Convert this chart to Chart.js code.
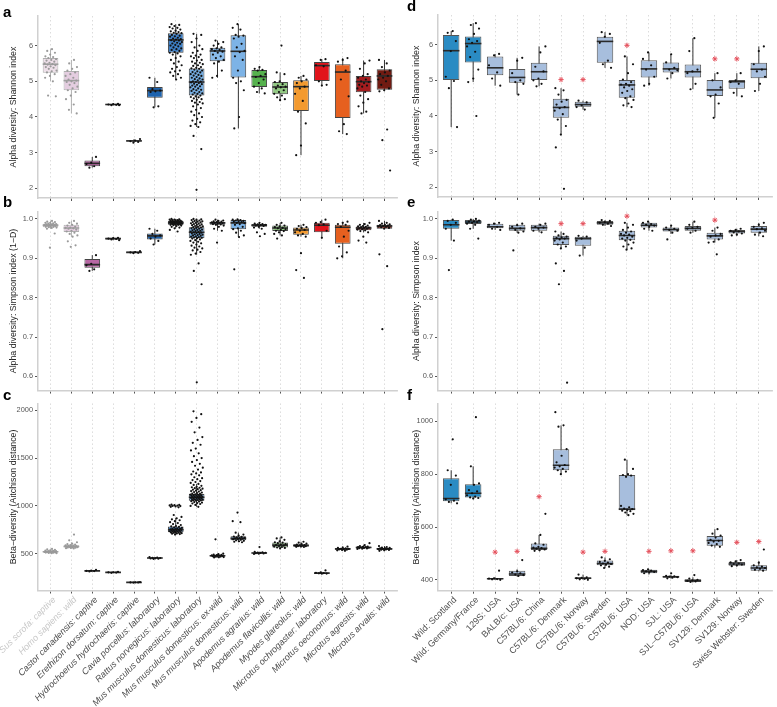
<!DOCTYPE html>
<html><head><meta charset="utf-8">
<script src="https://cdn.jsdelivr.net/npm/chart.js@4.4.1/dist/chart.umd.min.js"></script>
<style>
html,body{margin:0;padding:0;background:#fff}
body{width:777px;height:707px;position:relative;overflow:hidden;font-family:'Liberation Sans',Arial,sans-serif}
canvas{position:absolute}
.lt{position:absolute;font-weight:bold;font-size:15px;line-height:15px;color:#000}
</style></head><body>
<canvas id="pa" width="401" height="205" style="left:0;top:0"></canvas>
<canvas id="pb" width="401" height="192" style="left:0;top:205px"></canvas>
<canvas id="pc" width="401" height="310" style="left:0;top:397px"></canvas>
<canvas id="pd" width="377" height="205" style="left:400px;top:0"></canvas>
<canvas id="pe" width="377" height="192" style="left:400px;top:205px"></canvas>
<canvas id="pf" width="377" height="310" style="left:400px;top:397px"></canvas>
<div class="lt" style="left:3px;top:4px">a</div>
<div class="lt" style="left:3px;top:194px">b</div>
<div class="lt" style="left:3px;top:387px">c</div>
<div class="lt" style="left:407px;top:-2px">d</div>
<div class="lt" style="left:407px;top:194px">e</div>
<div class="lt" style="left:407px;top:387px">f</div>
<script>
// ---------- categories ----------
const leftCats = ['Sus scrofa: captive','Homo sapiens: wild','Castor canadensis: captive','Erethizon dorsatum: captive','Hydrochoerus hydrochaeris: captive','Cavia porcellus: laboratory','Rattus norvegicus: laboratory','Mus musculus domesticus: laboratory','Mus musculus domesticus: ex-wild','Mus musculus domesticus: wild','Apodemus agrarius: wild','Apodemus flavicollis: wild','Myodes glareolus: wild','Microtus ochrogaster: laboratory','Microtus oeconomus: wild','Microtus agrestis: wild','Microtus arvalis: wild'];
const rightCats = ['Wild: Scotland','Wild: Germany/France','129S: USA','BALB/c: USA','C57BL/6: China','C57BL/6: Denmark','C57BL/6: Norway','C57BL/6: Sweden','C57BL/6: USA','NOD: USA','SJL: USA','SJL\u2013C57BL/6: USA','SV129: Denmark','SV129: Norway','Swiss Webster: Sweden'];

// ---------- colours ----------
const leftFill = ['#eedfe9','#e4cde0','#b867a4','#7d4f87','#5b5b5b','#1d63ae','#3f80c6','#76aee3','#8abbe9','#7db3e6','#56b24e','#92c983','#f39a2f','#e1141b','#e6601f','#a31d1f','#711b12'];
const leftEdge = ['#b0b0b0','#b0b0b0','#444','#444','#444','#444','#444','#444','#444','#444','#444','#444','#444','#444','#444','#444','#444'];
const leftPt = ['#9a9a9a','#9a9a9a','#111','#111','#111','#111','#111','#111','#111','#111','#111','#111','#111','#111','#111','#111','#111'];
const leftLabCol = ['#c8c8c8','#c8c8c8','#4d4d4d','#4d4d4d','#4d4d4d','#4d4d4d','#4d4d4d','#4d4d4d','#4d4d4d','#4d4d4d','#4d4d4d','#4d4d4d','#4d4d4d','#4d4d4d','#4d4d4d','#4d4d4d','#4d4d4d'];
const rightFill = ['#2a8bc3','#2a8bc3','#a7bedd','#a7bedd','#a7bedd','#a7bedd','#a7bedd','#a7bedd','#a7bedd','#a7bedd','#a7bedd','#a7bedd','#a7bedd','#a7bedd','#a7bedd'];
const rightEdge = rightCats.map(()=> '#555');
const rightPt = rightCats.map(()=> '#111');
const rightLabCol = rightCats.map(()=> '#4d4d4d');

// ---------- tick labels ----------
const yTicksShannon = [2,3,4,5,6];
const yLabShannon = ['2','3','4','5','6'];
const yTicksSimpson = [0.6,0.7,0.8,0.9,1.0];
const yLabSimpson = ['0.6','0.7','0.8','0.9','1.0'];
const yTicksBetaL = [500,1000,1500,2000];
const yLabBetaL = ['500','1000','1500','2000'];
const yTicksBetaR = [400,600,800,1000];
const yLabBetaR = ['400','600','800','1000'];

// ---------- panel a : Shannon (hosts) ----------
const aQ1  = [5.24,4.75,2.62,4.335,3.31,4.54,5.80,4.60,5.56,5.11,4.84,4.64,4.17,5.01,3.97,4.69,4.76];
const aMed = [5.48,5.02,2.70,4.35,3.33,4.74,6.16,4.98,5.85,5.84,5.13,4.84,4.85,5.44,5.26,4.99,5.15];
const aQ3  = [5.65,5.29,2.78,4.36,3.35,4.84,6.35,5.36,5.94,6.29,5.32,4.98,5.03,5.54,5.48,5.15,5.34];
const aLo  = [5.00,4.10,2.58,4.33,3.28,4.27,5.05,3.72,5.10,3.68,4.66,4.47,2.93,4.88,3.52,4.10,4.72];
const aHi  = [5.90,5.60,2.88,4.37,3.38,5.10,6.60,6.33,6.14,6.60,5.40,5.25,5.15,5.62,5.65,5.58,5.60];
const aPts = [
 [5.9,5.85,5.8,5.75,5.7,5.68,5.65,5.62,5.6,5.58,5.55,5.52,5.5,5.48,5.47,5.45,5.42,5.4,5.38,5.35,5.3,5.28,5.25,5.2,5.15,5.1,5.0,4.6,4.58],
 [5.6,5.5,5.4,5.35,5.3,5.25,5.2,5.15,5.1,5.05,5.02,5.0,4.98,4.95,4.9,4.85,4.8,4.75,4.7,4.6,4.5,4.35,4.2,4.1],
 [2.88,2.72,2.68,2.62,2.58],
 [4.37,4.36,4.35,4.34,4.33,4.33],
 [3.38,3.34,3.32,3.3,3.28],
 [5.1,4.98,4.78,4.74,4.72,4.7,4.3,4.27],
 [6.6,6.58,6.55,6.52,6.5,6.48,6.45,6.42,6.4,6.38,6.36,6.35,6.33,6.3,6.28,6.26,6.25,6.22,6.2,6.18,6.17,6.15,6.14,6.12,6.1,6.08,6.06,6.05,6.02,6.0,5.98,5.95,5.92,5.9,5.88,5.85,5.82,5.8,5.78,5.75,5.7,5.65,5.6,5.55,5.5,5.45,5.4,5.35,5.3,5.28,5.25,5.2,5.15,5.1,5.05],
 [6.33,6.3,6.2,6.1,6.0,5.95,5.9,5.85,5.8,5.75,5.72,5.7,5.68,5.65,5.6,5.58,5.55,5.52,5.5,5.48,5.45,5.43,5.4,5.38,5.36,5.35,5.33,5.3,5.28,5.26,5.25,5.22,5.2,5.18,5.16,5.15,5.12,5.1,5.08,5.06,5.05,5.03,5.0,4.99,4.98,4.97,4.95,4.93,4.92,4.9,4.88,4.86,4.85,4.83,4.8,4.78,4.76,4.75,4.73,4.7,4.68,4.66,4.65,4.63,4.6,4.58,4.56,4.55,4.52,4.5,4.48,4.45,4.42,4.4,4.38,4.35,4.3,4.25,4.2,4.15,4.1,4.05,4.0,3.95,3.9,3.85,3.8,3.75,3.72,3.47,3.1,1.96],
 [6.14,6.1,6.05,6.0,5.95,5.92,5.9,5.88,5.85,5.83,5.8,5.75,5.7,5.65,5.6,5.55,5.5,5.3,5.15,5.1],
 [6.6,6.5,6.45,6.3,6.28,6.25,6.2,6.05,5.95,5.85,5.82,5.7,5.6,5.3,5.1,5.0,4.95,4.75,4.0,3.68],
 [5.4,5.35,5.32,5.3,5.2,5.15,5.12,5.05,4.95,4.85,4.8,4.7,4.66],
 [6.0,5.25,5.2,5.0,4.98,4.92,4.88,4.85,4.83,4.8,4.75,4.7,4.65,4.6,4.55,4.5,4.47],
 [5.15,5.1,5.05,5.0,4.95,4.85,4.8,4.65,4.45,4.15,3.82,3.2,2.93],
 [5.62,5.6,5.45,5.42,5.0,4.9,4.88],
 [5.65,5.6,5.55,5.3,5.05,4.58,3.8,3.6,3.52],
 [5.58,5.5,5.35,5.2,5.15,5.1,5.05,5.0,4.98,4.95,4.9,4.88,4.85,4.8,4.7,4.6,4.5,4.4,4.3,4.15,4.1],
 [5.6,5.5,5.4,5.3,5.25,5.2,5.15,5.1,5.05,5.0,4.9,4.8,4.75,4.72,3.65,3.35,2.5]
];

// ---------- panel b : Simpson (hosts) ----------
const bQ1  = [0.979,0.967,0.876,0.948,0.914,0.948,0.985,0.951,0.985,0.974,0.980,0.969,0.960,0.966,0.937,0.971,0.975];
const bMed = [0.984,0.977,0.884,0.950,0.915,0.957,0.990,0.966,0.990,0.990,0.984,0.977,0.972,0.984,0.979,0.977,0.982];
const bQ3  = [0.988,0.985,0.898,0.952,0.917,0.963,0.995,0.979,0.993,0.997,0.987,0.983,0.978,0.990,0.985,0.981,0.985];
const bLo  = [0.975,0.955,0.868,0.946,0.913,0.935,0.976,0.909,0.970,0.954,0.975,0.958,0.955,0.952,0.900,0.966,0.975];
const bHi  = [0.995,0.995,0.908,0.953,0.918,0.975,1.000,1.000,0.998,0.999,0.990,0.990,0.985,0.998,0.993,0.990,0.995];
const bPts = [
 [0.995,0.993,0.992,0.99,0.99,0.989,0.988,0.987,0.986,0.986,0.985,0.985,0.984,0.984,0.983,0.982,0.981,0.98,0.98,0.979,0.978,0.977,0.975,0.963,0.927],
 [0.995,0.99,0.988,0.985,0.983,0.98,0.978,0.977,0.976,0.975,0.973,0.97,0.968,0.965,0.962,0.958,0.955,0.943,0.933,0.929],
 [0.908,0.886,0.882,0.872,0.868],
 [0.952,0.951,0.95,0.949,0.948,0.946],
 [0.918,0.916,0.915,0.914,0.913],
 [0.975,0.97,0.962,0.958,0.955,0.95,0.944,0.935],
 [1.0,0.999,0.998,0.998,0.997,0.997,0.996,0.996,0.995,0.995,0.994,0.994,0.993,0.993,0.992,0.992,0.991,0.991,0.99,0.99,0.99,0.989,0.989,0.988,0.988,0.987,0.987,0.986,0.986,0.985,0.985,0.984,0.983,0.982,0.98,0.978,0.976,0.972,0.968],
 [1.0,0.999,0.998,0.997,0.996,0.995,0.994,0.993,0.992,0.991,0.99,0.989,0.988,0.987,0.986,0.985,0.984,0.983,0.982,0.981,0.98,0.979,0.978,0.977,0.976,0.975,0.974,0.973,0.972,0.971,0.97,0.969,0.968,0.967,0.966,0.965,0.964,0.963,0.962,0.961,0.96,0.959,0.958,0.957,0.956,0.955,0.954,0.953,0.952,0.951,0.95,0.948,0.946,0.944,0.942,0.94,0.938,0.935,0.932,0.93,0.927,0.925,0.922,0.92,0.916,0.912,0.909,0.887,0.868,0.834,0.585],
 [0.998,0.996,0.995,0.994,0.993,0.992,0.991,0.99,0.99,0.989,0.988,0.987,0.986,0.985,0.983,0.98,0.975,0.97,0.94],
 [0.999,0.998,0.997,0.996,0.995,0.994,0.993,0.992,0.99,0.989,0.987,0.985,0.98,0.976,0.974,0.97,0.965,0.958,0.954,0.872],
 [0.99,0.988,0.987,0.986,0.985,0.984,0.983,0.982,0.98,0.978,0.975,0.966,0.962,0.956],
 [0.99,0.985,0.983,0.981,0.979,0.977,0.976,0.974,0.972,0.97,0.969,0.966,0.962,0.958,0.95],
 [0.985,0.982,0.979,0.977,0.975,0.972,0.97,0.966,0.962,0.958,0.955,0.913,0.87,0.85],
 [0.998,0.992,0.99,0.986,0.984,0.97,0.952],
 [0.993,0.99,0.987,0.985,0.98,0.97,0.955,0.93,0.915,0.905,0.9],
 [0.99,0.987,0.985,0.983,0.982,0.981,0.98,0.979,0.978,0.977,0.976,0.975,0.974,0.973,0.971,0.969,0.966,0.955,0.945,0.94],
 [0.995,0.99,0.988,0.986,0.985,0.984,0.983,0.982,0.981,0.98,0.979,0.977,0.975,0.91,0.88,0.72]
];

// ---------- panel c : Aitchison (hosts) ----------
const cQ1  = [515,565,316,302,199,449,725,1055,470,640,502,565,577,292,542,558,542];
const cMed = [520,575,320,305,200,455,750,1090,478,660,507,590,585,297,550,565,550];
const cQ3  = [528,588,324,308,201,460,785,1125,487,683,513,618,600,303,558,575,560];
const cLo  = [505,555,315,300,198,445,700,990,460,620,498,555,570,290,530,550,530];
const cHi  = [545,620,330,310,203,465,875,1230,500,720,520,670,625,310,575,590,580];
const cPts = [
 [550,545,540,535,532,530,528,526,525,523,522,520,519,518,517,515,514,512,510,508,506,505],
 [700,640,620,605,600,595,590,587,585,582,580,578,575,573,570,568,566,564,562,560,558,555],
 [330,322,320,318,315],
 [310,306,305,303,300],
 [203,201,200,199,198],
 [465,460,457,455,452,450,447,445],
 [1013,1010,1008,1005,1003,1000,998,995,990,985,905,885,870,860,850,840,830,820,810,800,790,785,780,775,770,765,762,760,757,755,752,750,748,745,742,740,737,735,732,730,727,725,722,720,718,715,712,710,705,700],
 [1990,1960,1920,1880,1820,1770,1720,1690,1660,1640,1600,1580,1550,1520,1500,1480,1460,1440,1420,1400,1380,1360,1350,1340,1330,1320,1300,1290,1280,1270,1260,1250,1240,1230,1220,1210,1200,1195,1190,1185,1180,1175,1170,1165,1160,1155,1150,1145,1140,1135,1130,1125,1120,1118,1115,1112,1110,1108,1105,1102,1100,1098,1095,1093,1090,1088,1085,1083,1080,1078,1075,1072,1070,1067,1065,1062,1060,1057,1055,1050,1045,1040,1035,1030,1025,1020,1010,1000,990],
 [650,500,495,490,487,485,482,480,478,476,475,473,470,468,465,462,460],
 [930,840,830,720,700,690,680,675,670,665,662,660,657,655,650,645,640,635,630,625,620],
 [570,520,515,512,510,508,505,503,500,498],
 [670,660,645,630,620,615,610,600,595,590,585,580,575,570,565,560,555],
 [625,615,605,600,595,590,588,585,583,580,578,575,572,570],
 [325,305,300,297,295,292,290],
 [575,565,560,555,552,550,548,545,542,540,535,530],
 [610,590,580,575,572,570,568,565,562,560,558,555,552,550],
 [580,570,565,560,558,555,552,550,548,545,542,540,535,530]
];

// ---------- panel d : Shannon (mouse strains) ----------
const dQ1  = [5.01,5.50,5.14,4.93,5.01,3.95,4.26,5.49,4.51,5.08,5.22,5.08,4.56,4.76,5.06];
const dMed = [5.83,6.03,5.35,5.08,5.24,4.24,4.32,6.09,4.87,5.32,5.32,5.24,4.73,4.96,5.31];
const dQ3  = [6.27,6.23,5.67,5.32,5.49,4.48,4.40,6.22,5.01,5.56,5.50,5.44,5.01,5.01,5.49];
const dLo  = [3.69,4.95,4.85,4.60,4.83,3.48,4.18,5.35,4.25,4.85,5.05,4.75,3.95,4.55,4.70];
const dHi  = [6.38,6.60,5.74,5.63,5.95,4.78,4.43,6.35,5.67,5.78,5.73,6.18,5.20,5.20,5.95];
const dPts = [
 [6.38,6.33,6.1,5.82,5.1,4.98,4.78,3.69],
 [6.6,6.55,6.45,6.3,6.15,6.1,6.05,5.95,5.8,5.65,5.3,5.05,4.95,4.0],
 [5.74,5.7,5.42,5.22,5.05,4.85],
 [5.63,5.55,5.2,5.0,4.95,4.9,4.6],
 [5.95,5.78,5.38,5.25,5.05,5.0,4.9,4.83],
 [4.78,4.72,4.6,4.45,4.4,4.32,4.25,4.22,4.15,4.05,3.9,3.72,3.48,3.12,1.96],
 [4.43,4.38,4.3,4.25,4.18],
 [6.35,6.3,6.22,6.05,5.55,5.45,5.35],
 [5.67,5.45,5.2,5.02,4.95,4.9,4.88,4.85,4.8,4.75,4.7,4.65,4.55,4.5,4.45,4.35,4.3,4.25],
 [5.78,5.6,5.42,5.3,5.1,4.9,4.85],
 [5.73,5.5,5.35,5.3,5.28,5.2,5.05],
 [6.18,5.82,5.3,5.25,5.2,4.9,4.75],
 [5.2,5.0,4.8,4.6,4.55,4.35,3.95],
 [5.2,5.0,4.95,4.9,4.65,4.55],
 [5.95,5.82,5.45,5.3,5.25,5.1,4.9,4.7]
];
const dStar = [null,null,null,null,null,5.02,5.02,null,5.98,null,null,null,5.6,5.6,null];

// ---------- panel e : Simpson (mouse strains) ----------
const eQ1  = [0.975,0.987,0.976,0.970,0.970,0.934,0.932,0.985,0.946,0.978,0.968,0.970,0.948,0.963,0.965];
const eMed = [0.985,0.992,0.980,0.976,0.978,0.950,0.950,0.990,0.958,0.984,0.973,0.976,0.957,0.968,0.974];
const eQ3  = [0.997,0.997,0.988,0.985,0.985,0.957,0.955,0.995,0.970,0.990,0.978,0.982,0.965,0.972,0.982];
const eLo  = [0.945,0.975,0.972,0.965,0.966,0.925,0.907,0.982,0.922,0.970,0.962,0.965,0.940,0.958,0.956];
const eHi  = [0.998,1.000,0.990,0.988,0.988,0.968,0.957,0.997,0.990,0.993,0.983,0.993,0.978,0.975,0.990];
const ePts = [
 [0.998,0.995,0.99,0.985,0.975,0.945,0.87],
 [1.0,0.998,0.996,0.994,0.993,0.992,0.99,0.988,0.985,0.975,0.95],
 [0.99,0.988,0.985,0.98,0.975,0.972],
 [0.988,0.984,0.98,0.976,0.972,0.968,0.965,0.92],
 [0.988,0.985,0.98,0.978,0.975,0.97,0.966],
 [0.968,0.962,0.958,0.955,0.953,0.951,0.95,0.948,0.945,0.94,0.935,0.93,0.925,0.887,0.868,0.834,0.584],
 [0.957,0.955,0.95,0.945,0.927,0.907],
 [0.997,0.995,0.992,0.99,0.988,0.985,0.982],
 [0.99,0.985,0.978,0.972,0.968,0.965,0.962,0.96,0.958,0.955,0.952,0.95,0.947,0.945,0.94,0.935,0.93,0.925,0.922],
 [0.993,0.99,0.987,0.985,0.983,0.98,0.975,0.97],
 [0.983,0.978,0.975,0.972,0.97,0.965,0.948],
 [0.993,0.985,0.98,0.977,0.975,0.97,0.965],
 [0.978,0.97,0.962,0.958,0.955,0.948,0.942,0.94,0.91],
 [0.975,0.972,0.97,0.968,0.966,0.963,0.96,0.958],
 [0.99,0.985,0.98,0.976,0.974,0.97,0.965,0.96,0.956]
];
const eStar = [null,null,null,null,null,0.988,0.988,null,1.007,null,null,null,0.997,null,null];

// ---------- panel f : Aitchison (mouse strains) ----------
const fQ1  = [698,712,402,415,513,815,403,455,664,425,408,392,529,453,435];
const fMed = [708,728,404,422,520,834,406,462,668,432,412,397,549,460,445];
const fQ3  = [785,762,407,435,538,895,410,473,797,438,416,402,566,468,455];
const fLo  = [690,705,400,413,510,800,400,445,645,420,405,390,522,450,432];
const fHi  = [815,830,410,440,570,985,420,485,855,440,420,410,592,475,470];
const fPts = [
 [932,815,795,760,705,700,695,690],
 [1016,830,765,760,740,735,728,720,715,712,710,708],
 [435,406,405,403,402,400],
 [475,432,428,425,420,418,415],
 [650,570,538,533,525,522,520,518,515,512,510],
 [1035,985,980,895,870,845,835,830,825,820,815,810,800],
 [420,410,408,406,404,402,400],
 [485,478,472,468,465,462,460,457,455,450,445],
 [855,820,800,797,795,790,680,675,670,668,665,662,660,655,650,645],
 [440,437,435,432,430,428,425],
 [425,415,413,412,410,408,406],
 [418,405,400,398,396,394,392],
 [592,575,568,560,552,548,545,540,535,530,525],
 [475,470,466,462,460,458,455,452],
 [515,465,455,450,447,445,442,438,435]
];
const fStar = [null,null,505,508,715,null,505,508,null,508,510,510,null,542,545];

// ---------- drawing ----------
Chart.defaults.font.family = "'Liberation Sans', Arial, sans-serif";
const HALF = 0.375;
function jit(k){ return (((k*0.6180339887)%1) - 0.5) * 0.6; }

function panel(id, c){
  const n = c.cats.length;
  const idx = c.cats.map((_, i) => i);
  const whisk = [], med = [], box = [], pts = [], stars = [];
  idx.forEach(i => {
    whisk.push({x:i, y:c.lo[i]}, {x:i, y:c.hi[i]}, {x:i, y:null});
    med.push({x:i-HALF, y:c.med[i]}, {x:i+HALF, y:c.med[i]}, {x:i, y:null});
    box.push({x:i, y:[c.q1[i], c.q3[i]]});
    c.pts[i].forEach((v, k) => pts.push({x: i + jit(k + i*5 + 1), y: v, c: i}));
    if (c.star && c.star[i] != null) stars.push({x:i, y:c.star[i]});
  });
  new Chart(document.getElementById(id), {
    type: 'bar',
    data: { datasets: [
      {type:'scatter', data:stars, order:0, pointStyle:'star', pointRadius:2.6, pointBorderWidth:1,
        borderColor:'#e5505c', backgroundColor:'#e5505c'},
      {type:'scatter', data:pts, order:1, pointRadius:1.1, pointBorderWidth:0,
        pointBackgroundColor: ctx => (ctx.raw ? c.pt[ctx.raw.c] : '#111')},
      {type:'line', data:med, order:2, borderWidth:1.6, pointRadius:0, spanGaps:false, borderColor:'#333',
        segment:{borderColor: ctx => c.edge[Math.round(ctx.p0.parsed.x + HALF)] === '#b0b0b0' ? '#a0a0a0' : '#2a2a2a'}},
      {type:'bar', data:box, order:3, backgroundColor:c.fill, borderColor:c.edge, borderWidth:1,
        borderSkipped:false, barPercentage:0.75, categoryPercentage:1},
      {type:'line', data:whisk, order:4, borderWidth:1, pointRadius:0, spanGaps:false, borderColor:'#333',
        segment:{borderColor: ctx => c.edge[Math.round(ctx.p0.parsed.x)] === '#b0b0b0' ? '#b0b0b0' : '#333'}}
    ]},
    options: {
      responsive:false, animation:false, events:[],
      layout:{padding:{left:0, right:0, top:c.padT, bottom:0}},
      plugins:{legend:{display:false}, tooltip:{enabled:false}},
      scales: {
        x: {
          type:'linear', min:-0.6, max:n-0.4, offset:false,
          afterBuildTicks: s => { s.ticks = idx.map(v => ({value:v})); },
          afterFit: s => { s.height = c.xh; s.paddingLeft = 0; s.paddingRight = 0; },
          ticks: {display:c.showLabels, autoSkip:false, minRotation:45, maxRotation:45, padding:1, labelOffset:4,
            font:{size:9, style:c.italic ? 'italic' : 'normal'},
            color: ctx => c.labCol[ctx.index] || '#4d4d4d',
            callback: (v, i) => c.cats[i]},
          grid: {offset:false, color:'#d3d3d3', lineWidth:0.8, drawTicks:true, tickLength:3,
            tickColor:'#555', tickWidth:1, tickBorderDash:[]},
          border: {display:true, color:'#d0d0d0', width:1.5, dash:[1.5,2.5]}
        },
        y: {
          min:c.ymin, max:c.ymax,
          afterBuildTicks: s => { s.ticks = c.yt.map(v => ({value:v})); },
          afterFit: s => { s.width = 38; },
          ticks: {font:{size:7.4}, color:'#555', padding:2, callback: (v, i) => c.yl[i]},
          title: {display:true, text:c.title, font:{size:8.8}, color:'#222', padding:{top:c.titlePad, bottom:0}},
          grid: {drawOnChartArea:false, drawTicks:true, tickLength:3, tickColor:'#555', tickWidth:1},
          border: {display:true, color:'#d0d0d0', width:1.5}
        }
      }
    }
  });
}

const L = {cats:leftCats, fill:leftFill, edge:leftEdge, pt:leftPt, labCol:leftLabCol, italic:true, titlePad:8.3};
const R = {cats:rightCats, fill:rightFill, edge:rightEdge, pt:rightPt, labCol:rightLabCol, italic:false, titlePad:11};

panel('pa', Object.assign({}, L, {q1:aQ1, med:aMed, q3:aQ3, lo:aLo, hi:aHi, pts:aPts, ymin:1.73, ymax:6.83,
  yt:yTicksShannon, yl:yLabShannon, title:'Alpha diversity: Shannon index', padT:16, xh:7, showLabels:false}));
panel('pb', Object.assign({}, L, {q1:bQ1, med:bMed, q3:bQ3, lo:bLo, hi:bHi, pts:bPts, ymin:0.564, ymax:1.019,
  yt:yTicksSimpson, yl:yLabSimpson, title:'Alpha diversity: Simpson index (1\u2212D)', padT:2, xh:5.5, showLabels:false}));
panel('pc', Object.assign({}, L, {q1:cQ1, med:cMed, q3:cQ3, lo:cLo, hi:cHi, pts:cPts, ymin:115, ymax:2072,
  yt:yTicksBetaL, yl:yLabBetaL, title:'Beta\u2212diversity (Aitchison distance)', padT:5.5, xh:116.5, showLabels:true}));
panel('pd', Object.assign({}, R, {q1:dQ1, med:dMed, q3:dQ3, lo:dLo, hi:dHi, pts:dPts, star:dStar, ymin:1.73, ymax:6.83,
  yt:yTicksShannon, yl:yLabShannon, title:'Alpha diversity: Shannon index', padT:15, xh:8, showLabels:false}));
panel('pe', Object.assign({}, R, {q1:eQ1, med:eMed, q3:eQ3, lo:eLo, hi:eHi, pts:ePts, star:eStar, ymin:0.564, ymax:1.019,
  yt:yTicksSimpson, yl:yLabSimpson, title:'Alpha diversity: Simpson index', padT:2, xh:5.7, showLabels:false}));
panel('pf', Object.assign({}, R, {q1:fQ1, med:fMed, q3:fQ3, lo:fLo, hi:fHi, pts:fPts, star:fStar, ymin:359, ymax:1068,
  yt:yTicksBetaR, yl:yLabBetaR, title:'Beta\u2212diversity (Aitchison distance)', padT:5, xh:116.3, showLabels:true}));
</script>
</body></html>
